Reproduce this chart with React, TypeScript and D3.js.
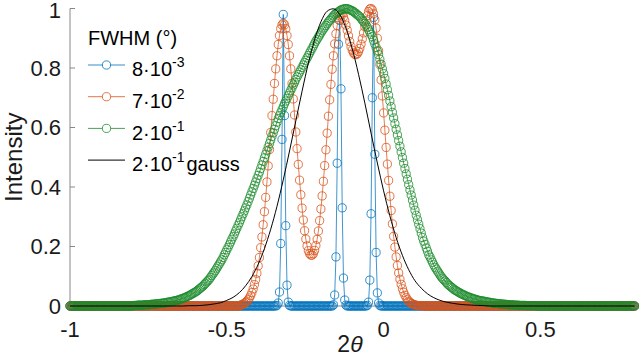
import React from "react";
import * as d3 from "d3";

// ---------- axes ----------
const X_DOMAIN = [-1, 0.8];
const Y_DOMAIN = [0, 1];
const xTicks = [-1, -0.5, 0, 0.5];
const xTickLabels = ["-1", "-0.5", "0", "0.5"];
const yTicks = [0, 0.2, 0.4, 0.6, 0.8, 1];
const yTickLabels = ["0", "0.2", "0.4", "0.6", "0.8", "1"];

// ---------- sampled series (grid step 0.004 in 2θ; values outside each window read as 0) ----------
const STEP = 0.004;

const blueStart = -0.34;
const blueY = [
  0.002, 0.01, 0.047, 0.21, 0.56, 0.98, 0.64, 0.27, 0.07, 0.013, 0.002,
  0, 0, 0, 0, 0, 0, 0, 0, 0, 0, 0, 0, 0, 0, 0, 0, 0, 0, 0, 0, 0, 0, 0, 0, 0, 0, 0, 0, 0, 0, 0, 0, 0, 0,
  0.004, 0.037, 0.165, 0.48, 0.88, 0.96, 0.73, 0.33, 0.094, 0.02, 0.003,
  0, 0, 0, 0, 0, 0, 0, 0, 0, 0, 0, 0, 0, 0, 0, 0,
  0.002, 0.013, 0.087, 0.31, 0.7, 0.97, 0.51, 0.18, 0.044, 0.01, 0.002,
];

const orangeStart = -0.456;
const orangeY = [
  0.003, 0.005, 0.006, 0.009, 0.012, 0.016, 0.021, 0.027, 0.035, 0.045,
  0.057, 0.072, 0.089, 0.110, 0.135, 0.163, 0.196, 0.232, 0.273, 0.317,
  0.365, 0.417, 0.471, 0.526, 0.583, 0.640, 0.695, 0.748, 0.797, 0.841,
  0.879, 0.909, 0.932, 0.945, 0.950, 0.945, 0.932, 0.909, 0.879, 0.841,
  0.797, 0.748, 0.696, 0.642, 0.585, 0.529, 0.476, 0.423, 0.374, 0.329,
  0.289, 0.253, 0.225, 0.202, 0.186, 0.176, 0.171, 0.171, 0.176, 0.187,
  0.203, 0.224, 0.252, 0.287, 0.326, 0.370, 0.419, 0.472, 0.525, 0.581,
  0.638, 0.693, 0.745, 0.796, 0.841, 0.881, 0.915, 0.943, 0.963, 0.976,
  0.981, 0.980, 0.972, 0.960, 0.944, 0.927, 0.908, 0.889, 0.872, 0.860,
  0.851, 0.846, 0.845, 0.848, 0.855, 0.866, 0.880, 0.898, 0.918, 0.939,
  0.959, 0.976, 0.990, 0.998, 1.000, 0.995, 0.982, 0.962, 0.934, 0.900,
  0.858, 0.812, 0.760, 0.706, 0.649, 0.591, 0.533, 0.477, 0.422, 0.369,
  0.321, 0.276, 0.234, 0.198, 0.165, 0.136, 0.111, 0.090, 0.073, 0.058,
  0.046, 0.036, 0.028, 0.021, 0.016, 0.012, 0.009, 0.007, 0.005, 0.004,
  0.002, 0.002, 0.001, 0.001, 0.001, 0.001,
];

const greenStart = -0.796;
const greenY = [
  0.002, 0.002, 0.002, 0.003, 0.003, 0.003, 0.003, 0.003, 0.004, 0.004,
  0.004, 0.004, 0.005, 0.005, 0.006, 0.006, 0.006, 0.007, 0.007, 0.008,
  0.008, 0.009, 0.009, 0.010, 0.010, 0.011, 0.012, 0.013, 0.013, 0.014,
  0.015, 0.016, 0.017, 0.018, 0.019, 0.020, 0.021, 0.023, 0.024, 0.026,
  0.027, 0.029, 0.031, 0.033, 0.035, 0.037, 0.040, 0.042, 0.045, 0.047,
  0.050, 0.053, 0.057, 0.060, 0.064, 0.067, 0.072, 0.076, 0.081, 0.085,
  0.090, 0.096, 0.102, 0.108, 0.114, 0.120, 0.127, 0.134, 0.141, 0.148,
  0.155, 0.163, 0.172, 0.180, 0.189, 0.197, 0.206, 0.215, 0.224, 0.233,
  0.242, 0.252, 0.261, 0.271, 0.280, 0.290, 0.300, 0.310, 0.320, 0.330,
  0.340, 0.351, 0.362, 0.373, 0.384, 0.395, 0.406, 0.417, 0.428, 0.439,
  0.450, 0.462, 0.474, 0.486, 0.498, 0.510, 0.522, 0.534, 0.546, 0.558,
  0.570, 0.582, 0.594, 0.606, 0.618, 0.630, 0.640, 0.650, 0.660, 0.670,
  0.680, 0.689, 0.698, 0.707, 0.716, 0.725, 0.734, 0.743, 0.752, 0.761,
  0.770, 0.778, 0.786, 0.794, 0.802, 0.810, 0.818, 0.826, 0.834, 0.842,
  0.850, 0.858, 0.866, 0.874, 0.882, 0.890, 0.897, 0.904, 0.911, 0.918,
  0.925, 0.931, 0.937, 0.943, 0.949, 0.955, 0.960, 0.965, 0.970, 0.975,
  0.980, 0.983, 0.986, 0.989, 0.992, 0.995, 0.997, 0.998, 0.999, 1.000,
  0.999, 0.998, 0.996, 0.994, 0.992, 0.990, 0.986, 0.983, 0.979, 0.976,
  0.972, 0.967, 0.961, 0.956, 0.950, 0.945, 0.937, 0.929, 0.921, 0.913,
  0.905, 0.893, 0.881, 0.869, 0.857, 0.845, 0.829, 0.813, 0.797, 0.781,
  0.765, 0.746, 0.727, 0.708, 0.689, 0.670, 0.651, 0.632, 0.613, 0.594,
  0.575, 0.556, 0.537, 0.518, 0.499, 0.480, 0.462, 0.444, 0.426, 0.408,
  0.390, 0.373, 0.356, 0.339, 0.322, 0.305, 0.290, 0.275, 0.260, 0.245,
  0.230, 0.218, 0.207, 0.195, 0.184, 0.172, 0.164, 0.155, 0.147, 0.138,
  0.130, 0.124, 0.117, 0.111, 0.104, 0.098, 0.093, 0.088, 0.084, 0.079,
  0.074, 0.070, 0.067, 0.063, 0.060, 0.056, 0.053, 0.051, 0.048, 0.046,
  0.043, 0.041, 0.039, 0.037, 0.035, 0.033, 0.031, 0.030, 0.028, 0.027,
  0.025, 0.024, 0.023, 0.021, 0.020, 0.019, 0.018, 0.017, 0.017, 0.016,
  0.015, 0.014, 0.013, 0.013, 0.012, 0.011, 0.010, 0.010, 0.009, 0.009,
  0.008, 0.008, 0.007, 0.007, 0.006, 0.006, 0.006, 0.005, 0.005, 0.004,
  0.004, 0.004, 0.004, 0.003, 0.003, 0.003, 0.003, 0.002, 0.002, 0.002,
  0.002, 0.002, 0.002, 0.001, 0.001, 0.001, 0.001, 0.001, 0.001, 0.001,
  0.001,
];

// gaussian reference curve (line only), step 0.02
const BLACK_STEP = 0.02;
const blackStart = -0.62;
const blackY = [
  0.001, 0.001, 0.002, 0.004, 0.007, 0.011, 0.019, 0.029, 0.045, 0.068,
  0.099, 0.140, 0.193, 0.258, 0.335, 0.424, 0.521, 0.622, 0.722, 0.816,
  0.895, 0.955, 0.991, 0.999, 0.980, 0.934, 0.865, 0.779, 0.683, 0.581,
  0.481, 0.387, 0.303, 0.230, 0.170, 0.122, 0.085, 0.060, 0.041, 0.028,
  0.019, 0.013, 0.009, 0.006, 0.004, 0.003, 0.002, 0.001,
];

// ---------- legend ----------
const legendTitle = "FWHM (°)";
const legendBase = ["8·10", "7·10", "2·10", "2·10"];
const legendExp = ["-3", "-2", "-1", "-1"];
const legendSuffix = ["", "", "", "gauss"];
const legendMarker = [true, true, true, false];

const COLORS = ["#0072BD", "#D95319", "#1a8a2b", "#000000"];
const FONT = "'Liberation Sans', Arial, Helvetica, sans-serif";

type Pt = { x: number; y: number };

function expand(start: number, vals: number[], step: number): Pt[] {
  const n = Math.round((X_DOMAIN[1] - X_DOMAIN[0]) / step);
  const off = Math.round((start - X_DOMAIN[0]) / step);
  return d3.range(n + 1).map((i) => {
    const j = i - off;
    return { x: X_DOMAIN[0] + i * step, y: j >= 0 && j < vals.length ? vals[j] : 0 };
  });
}

export default function App() {
  const W = 640;
  const H = 357;
  const x = d3.scaleLinear().domain(X_DOMAIN).range([70, 634.5]);
  const y = d3.scaleLinear().domain(Y_DOMAIN).range([306, 8.5]);

  const markerSeries = [
    expand(blueStart, blueY, STEP),
    expand(orangeStart, orangeY, STEP),
    expand(greenStart, greenY, STEP),
  ];
  const blackPts = expand(blackStart, blackY, BLACK_STEP);

  const line = d3
    .line<Pt>()
    .x((d) => x(d.x))
    .y((d) => y(d.y));
  const smooth = d3
    .line<Pt>()
    .x((d) => x(d.x))
    .y((d) => y(d.y))
    .curve(d3.curveMonotoneX);

  const R = 4.1;
  const axisColor = "#7a7a7a";
  const textColor = "#1a1a1a";

  return (
    <svg
      width={W}
      height={H}
      style={{ position: "absolute", left: 0, top: 0, background: "#fff" }}
      fontFamily={FONT}
    >
      <rect x={0} y={0} width={W} height={H} fill="#fff" />

      {/* axes */}
      <line x1={x(-1)} x2={x(-1)} y1={y(0)} y2={y(1)} stroke={axisColor} strokeWidth={0.9} />
      <line x1={x(-1)} x2={x(0.8)} y1={y(0)} y2={y(0)} stroke={axisColor} strokeWidth={0.9} />
      {yTicks.map((t, i) => (
        <g key={"yt" + i}>
          <line x1={x(-1)} x2={x(-1) + 5} y1={y(t)} y2={y(t)} stroke={axisColor} strokeWidth={0.9} />
          <text x={61} y={Math.max(y(t), 10)} dy="0.36em" textAnchor="end" fontSize={22} fill={textColor}>
            {yTickLabels[i]}
          </text>
        </g>
      ))}
      {xTicks.map((t, i) => (
        <g key={"xt" + i}>
          <line x1={x(t)} x2={x(t)} y1={y(0)} y2={y(0) - 5} stroke={axisColor} strokeWidth={0.9} />
          <text x={x(t)} y={337} textAnchor="middle" fontSize={22} fill={textColor}>
            {xTickLabels[i]}
          </text>
        </g>
      ))}

      {/* series with circle markers */}
      {markerSeries.map((pts, si) => (
        <g key={"s" + si}>
          <path d={line(pts) || ""} fill="none" stroke={COLORS[si]} strokeWidth={0.75} />
          {pts.map((p, i) => (
            <circle
              key={i}
              cx={x(p.x)}
              cy={y(p.y)}
              r={R}
              fill="none"
              stroke={COLORS[si]}
              strokeWidth={0.8}
            />
          ))}
        </g>
      ))}
      <path d={smooth(blackPts) || ""} fill="none" stroke={COLORS[3]} strokeWidth={1} />

      {/* axis labels */}
      <text x={350} y={352} textAnchor="middle" fontSize={23} fill={textColor}>
        <tspan fontStyle="normal">2</tspan>
        <tspan fontStyle="italic">θ</tspan>
      </text>
      <text
        transform={`translate(22, ${(y(0) + y(1)) / 2}) rotate(-90)`}
        textAnchor="middle"
        fontSize={24}
        fill={textColor}
      >
        Intensity
      </text>

      {/* legend */}
      <g fill="#000">
        <text x={88} y={45} fontSize={20}>
          {legendTitle}
        </text>
        {legendBase.map((b, i) => {
          const cy = 65 + i * 31.7;
          const base = cy + 11.3;
          return (
            <g key={"lg" + i}>
              <line x1={88} x2={125} y1={cy} y2={cy} stroke={COLORS[i]} strokeWidth={legendMarker[i] ? 0.8 : 1} />
              {legendMarker[i] && (
                <circle cx={106.5} cy={cy} r={R} fill="#fff" stroke={COLORS[i]} strokeWidth={0.8} />
              )}
              <text x={132} y={base} fontSize={20}>
                {b}
                <tspan fontSize={14} dy={-9}>
                  {legendExp[i]}
                </tspan>
                {legendSuffix[i] && (
                  <tspan fontSize={20} dy={9} dx={2}>
                    {legendSuffix[i]}
                  </tspan>
                )}
              </text>
            </g>
          );
        })}
      </g>
    </svg>
  );
}
